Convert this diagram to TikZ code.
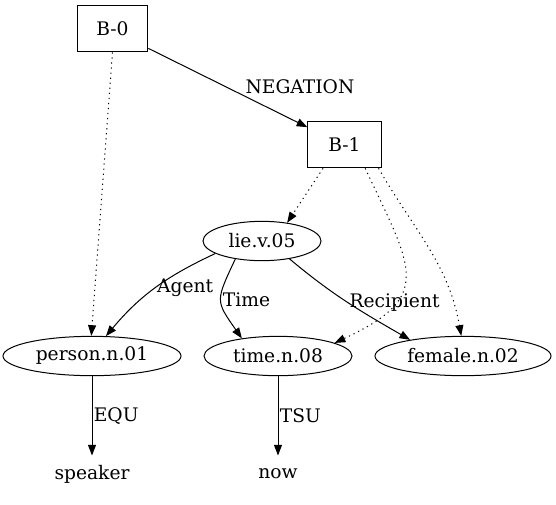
\documentclass[tikz,border=0pt]{standalone}
\usepackage{fontspec}
\setmainfont{DejaVu Serif}
\usetikzlibrary{arrows.meta,shapes.geometric}

\begin{document}
\begin{tikzpicture}[->, >={Triangle[length=8pt,width=6pt]}, x=0.75pt, y=-0.75pt, line width=0.75pt,
    box node/.style={rectangle, draw, minimum height=35pt, inner sep=0pt},
    sense node/.style={ellipse, draw, minimum height=29.5pt, inner sep=0pt},
    word node/.style={minimum height=27pt, inner sep=0pt},
    ref edge/.style={dash pattern=on 0.9pt off 2.9pt}]
        \tikzstyle{every node}=[font=\fontsize{14}{16}\selectfont]
        \useasboundingbox (0,0) rectangle (556,504);

          \node[box node, minimum width=53pt] (b0) at (112.5,28.5) {B-0};
          \node[box node, minimum width=55pt] (b1) at (344.5,144.5) {B-1};
          \node[sense node, minimum width=88.5pt] (lie) at (262,241) {lie.v.05};
          \node[sense node, minimum width=133.5pt] (person) at (92,356) {person.n.01};
          \node[sense node, minimum width=111pt] (time) at (278,356) {time.n.08};
          \node[sense node, minimum width=132pt] (female) at (463,356) {female.n.02};
          \node[word node] (speaker) at (92,474) {speaker};
          \node[word node] (now) at (278,474) {now};

          \path[every node/.style={font=\fontsize{14}{16}\selectfont, inner sep=1pt}]
            (b0.-29) edge node [pos=0.6, above right] {NEGATION} (b1.155)
            (b0.south) edge [ref edge] (person.92)
            (b1.-132) edge [ref edge] (lie.36)
            (b1.-49) edge [ref edge, out=-65, in=25, looseness=1.6] (time.13)
            (b1.-35) edge [ref edge, out=-60, in=100] (female.95)
            (lie.195) edge [out=-155, in=50] node [pos=0.5, right] {Agent} (person.55)
            (lie.-146) edge [out=-115, in=125, looseness=1.5] node [pos=0.5, right] {Time} (time.154)
            (lie.-33) edge [out=-40, in=150] node [pos=0.5, right] {Recipient} (female.163)
            (person) edge node [right] {EQU} (speaker)
            (time) edge node [right] {TSU} (now);

        \end{tikzpicture}
\end{document}
